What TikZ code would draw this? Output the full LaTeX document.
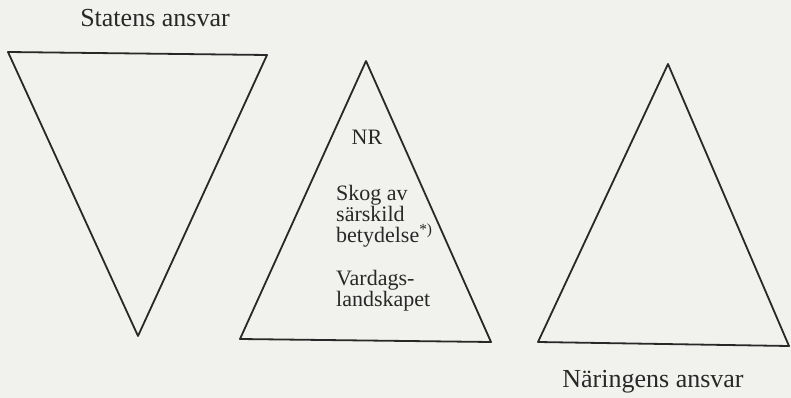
\documentclass[tikz,border=0pt]{standalone}
\usepackage{fontspec}
\setmainfont{Liberation Serif}
\definecolor{bg}{RGB}{241,241,238}
\definecolor{ink}{RGB}{40,40,40}
\begin{document}
\begin{tikzpicture}[x=1pt,y=-1pt,
  tri/.style={draw=ink, line width=1.8pt, line join=round},
  ttl/.style={font=\fontsize{26}{30}\selectfont, text=ink, anchor=base, inner sep=0pt},
  midc/.style={font=\fontsize{22}{22}\selectfont, text=ink, anchor=base, inner sep=0pt},
  midl/.style={font=\fontsize{22}{22}\selectfont, text=ink, anchor=base west, inner sep=0pt}]
\fill[bg] (0,0) rectangle (791,398);
\useasboundingbox (0,0) rectangle (791,398);
% left (inverted) triangle
\coordinate (L1) at (8,52);
\coordinate (L2) at (267,55);
\coordinate (L3) at (138,336);
\draw[tri] (L1) -- (L2) -- (L3) -- cycle;
% middle triangle
\coordinate (M1) at (366,61);
\coordinate (M2) at (491,342);
\coordinate (M3) at (240,339);
\draw[tri] (M1) -- (M2) -- (M3) -- cycle;
% right triangle
\coordinate (R1) at (668,64);
\coordinate (R2) at (789,346);
\coordinate (R3) at (538,342);
\draw[tri] (R1) -- (R2) -- (R3) -- cycle;
% labels
\node[ttl] (statens) at (155,27) {Statens ansvar};
\node[ttl] (naringens) at (653,387) {Näringens ansvar};
\node[midc] (nr) at (367,145) {NR};
\node[midl] (skog) at (336,200) {Skog av};
\node[midl] (sarskild) at (336,221) {särskild};
\node[midl] (betydelse) at (336,242) {betydelse\textsuperscript{*)}};
\node[midl] (vardags) at (336,285) {Vardags-};
\node[midl] (landskapet) at (336,306) {landskapet};
\end{tikzpicture}
\end{document}
